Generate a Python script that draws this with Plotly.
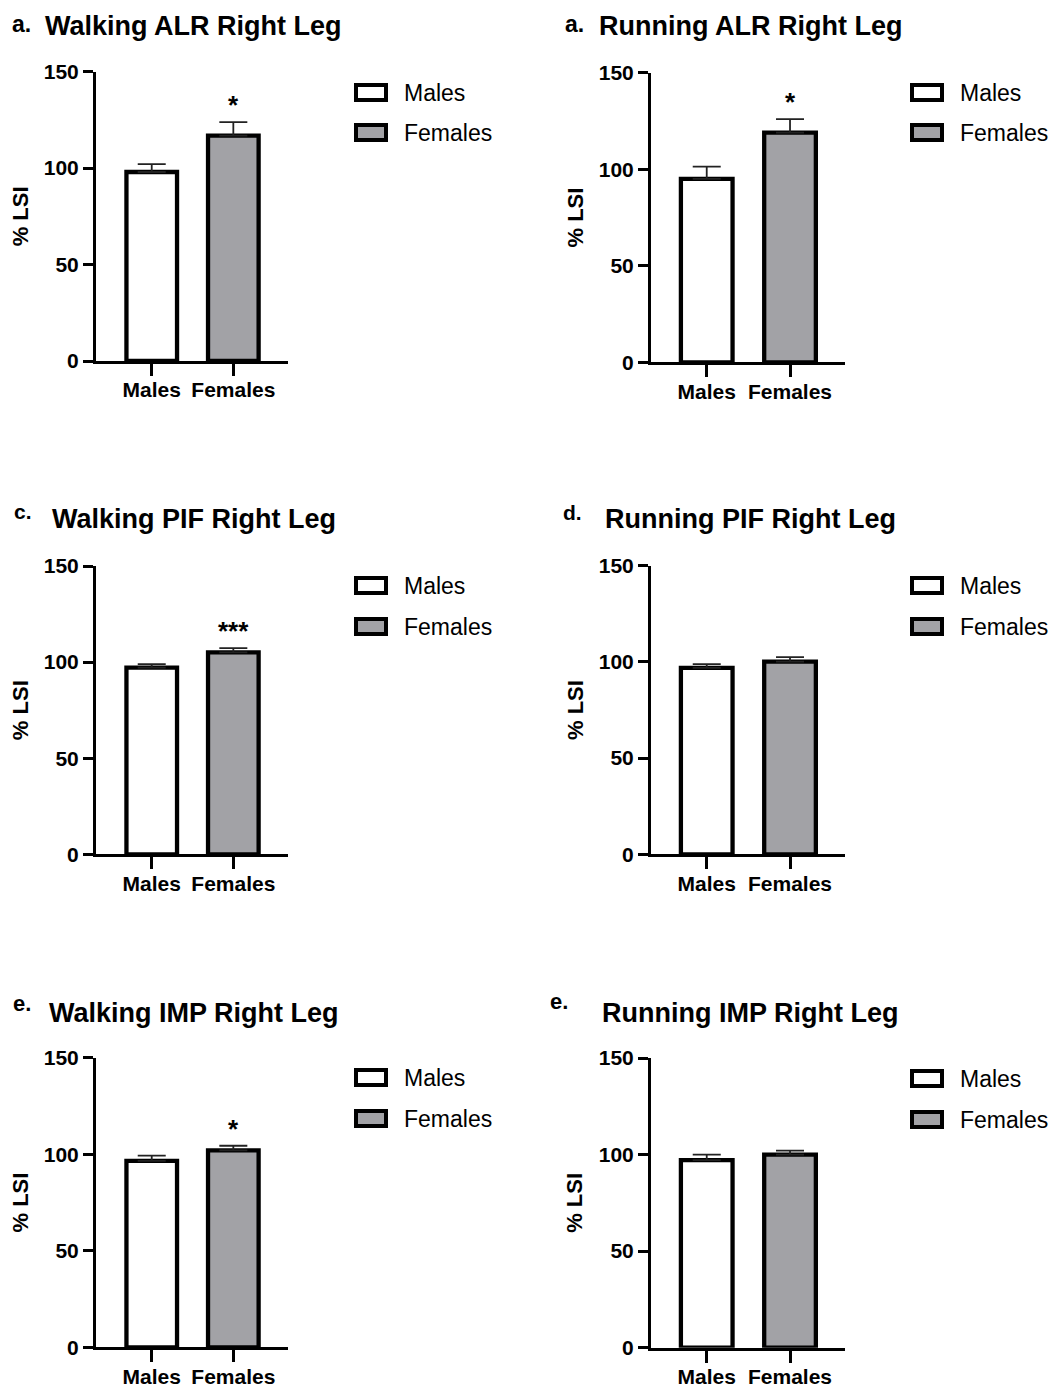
import plotly.graph_objects as go

# Limb symmetry index (% LSI), right leg, mean ± SEM
panel_letters = ["a.", "a.", "c.", "d.", "e.", "e."]
panel_titles = [
    "Walking ALR Right Leg", "Running ALR Right Leg",
    "Walking PIF Right Leg", "Running PIF Right Leg",
    "Walking IMP Right Leg", "Running IMP Right Leg",
]
groups = ["Males", "Females"]
male_mean = [98.0, 95.0, 97.1, 96.9, 96.6, 97.1]
male_sem = [4.1, 6.3, 1.8, 1.9, 2.7, 2.9]
female_mean = [116.9, 119.0, 105.1, 100.1, 102.0, 100.0]
female_sem = [7.0, 7.0, 2.2, 2.4, 2.4, 2.0]
significance = ["*", "*", "***", "", "*", ""]
y_ticks = [0, 50, 100, 150]

W, H = 1050, 1387
FONT = "Liberation Sans, Arial, sans-serif"
GREY = "#a2a2a6"

# plot-area geometry in pixels: (x_left, x_right, y_zero, y_150)
geom = [
    (96, 288, 361.0, 71.7), (651, 845, 362.3, 72.7),
    (96, 288, 854.3, 566.0), (651, 845, 854.3, 565.7),
    (96, 288, 1347.3, 1057.7), (651, 845, 1347.7, 1058.0),
]
xranges = [(-0.683, 1.670), (-0.669, 1.660)] * 3
# header positions: (letter x, letter y, letter size, title x, title y)
headers = [
    (10, 24, 23, 43, 26), (563, 24, 23, 597, 26),
    (12, 511, 21, 50, 519), (561, 512, 21, 603, 519),
    (11, 1003, 22, 47, 1013), (548, 1001, 22, 600, 1013),
]
# legend swatch top edges (Males, Females) and swatch x
legend_y = [(83, 123), (83, 123), (576, 617), (576, 617), (1068, 1109), (1069, 1110)]
legend_x = [354, 910, 354, 910, 354, 910]


def px(x):
    return x / W


def py(y):
    return 1 - y / H


fig = go.Figure()
annotations = []
shapes = []

for i in range(6):
    sfx = "" if i == 0 else str(i + 1)
    xa, ya = "x" + sfx, "y" + sfx
    x0, x1, yz, yt = geom[i]

    for j, (mean, sem, fill) in enumerate(
        [(male_mean, male_sem, "white"), (female_mean, female_sem, GREY)]
    ):
        fig.add_trace(go.Bar(
            x=[j], y=[mean[i]], name=groups[j], width=0.62,
            marker=dict(color=fill, line=dict(color="black", width=4.3)),
            error_y=dict(type="data", symmetric=False, array=[sem[i]],
                         arrayminus=[0], color="#222", thickness=1.8, width=14),
            xaxis=xa, yaxis=ya, showlegend=False,
        ))

    axis_common = dict(
        showline=True, linecolor="black", linewidth=3, ticks="outside",
        tickcolor="black", tickwidth=3, showgrid=False, zeroline=False,
        tickfont=dict(family=FONT, size=21, color="black", weight="bold"),
        fixedrange=True, automargin=False,
    )
    fig.layout["xaxis" + sfx] = dict(
        axis_common, domain=[px(x0), px(x1)], range=list(xranges[i]),
        tickvals=[0, 1], ticktext=groups, ticklen=12, anchor=ya,
        ticklabelstandoff=-4,
    )
    fig.layout["yaxis" + sfx] = dict(
        axis_common, domain=[py(yz), py(yt)], range=[0, 150],
        tickvals=y_ticks, ticklen=10, anchor=xa,
    )

    # y-axis label
    annotations.append(dict(
        text="% LSI", xref="paper", yref="paper", x=px(x0 - 76),
        y=py((yz + yt) / 2), textangle=-90, showarrow=False,
        xanchor="center", yanchor="middle",
        font=dict(family=FONT, size=22, color="black", weight="bold"),
    ))

    # panel letter and title
    lx, ly, ls, tx, ty = headers[i]
    annotations.append(dict(
        text=panel_letters[i], xref="paper", yref="paper", x=px(lx), y=py(ly),
        xanchor="left", yanchor="middle", showarrow=False,
        font=dict(family=FONT, size=ls, color="black", weight="bold"),
    ))
    annotations.append(dict(
        text=panel_titles[i], xref="paper", yref="paper", x=px(tx), y=py(ty),
        xanchor="left", yanchor="middle", showarrow=False,
        font=dict(family=FONT, size=27, color="black", weight="bold"),
    ))

    # significance marker above the female bar
    if significance[i]:
        annotations.append(dict(
            text=significance[i], xref=xa, yref=ya, x=1,
            y=female_mean[i] + female_sem[i], xanchor="center",
            yanchor="bottom", showarrow=False, yshift=0,
            font=dict(family=FONT, size=26, color="black", weight="bold"),
        ))

    # legend: outlined swatches and labels
    lxp = legend_x[i]
    for j, fill in enumerate(["white", GREY]):
        top = legend_y[i][j]
        shapes.append(dict(
            type="rect", xref="paper", yref="paper",
            x0=px(lxp + 2), x1=px(lxp + 32), y0=py(top + 17), y1=py(top + 2),
            line=dict(color="black", width=4), fillcolor=fill,
        ))
        annotations.append(dict(
            text=groups[j], xref="paper", yref="paper", x=px(lxp + 48),
            y=py(top + 10), xanchor="left", yanchor="middle", showarrow=False,
            font=dict(family=FONT, size=23, color="black"),
        ))

fig.update_layout(
    width=W, height=H, autosize=False,
    margin=dict(l=0, r=0, t=0, b=0, autoexpand=False),
    paper_bgcolor="white", plot_bgcolor="white",
    barmode="overlay", annotations=annotations, shapes=shapes,
    font=dict(family=FONT, color="black"),
)

fig.write_html("out.html", config={"displayModeBar": False})
